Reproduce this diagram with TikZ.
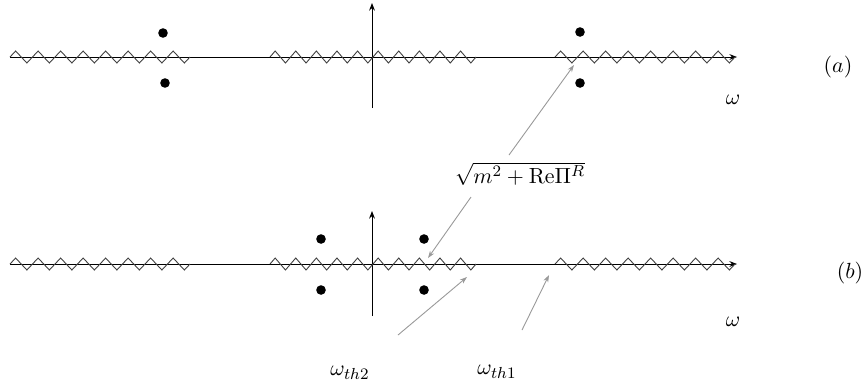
\documentclass[tikz,border=0pt]{standalone}
\usetikzlibrary{arrows.meta}
% #1 start x, #2 number of teeth, #3 period (px), #4 axis y
\newcommand\zigcut[4]{%
  \draw[cutline] (#1,#4)
    \foreach \i in {1,...,#2} {
      -- ({#1+(\i-0.75)*#3},{#4-6}) -- ({#1+(\i-0.25)*#3},{#4+6})
    } -- ({#1+#2*#3},#4);}
\begin{document}
\begin{tikzpicture}[x=0.5pt,y=-0.5pt,
  font=\fontsize{11}{13}\selectfont,
  axisline/.style={draw=black, line width=0.5pt},
  axisarrow/.style={axisline, -{Stealth[length=3.8pt,width=2.9pt]}},
  cutline/.style={draw=black!75, line width=0.45pt, line join=miter},
  pole/.style={circle, fill=black, inner sep=0pt, minimum size=4.8pt},
  pointer/.style={draw=black!40, line width=0.45pt, -{Stealth[length=3.6pt,width=2.5pt]}},
  lbl/.style={inner sep=1pt}]
\useasboundingbox (0,0) rectangle (865,387);
% ---------- (a) ----------
\coordinate (aL) at (10,57);
\coordinate (aR) at (737,57);
\coordinate (aB) at (372,108);
\coordinate (aT) at (372,3);
\draw[axisarrow] (aL) -- (aR);
\draw[axisarrow] (aB) -- (aT);
\zigcut{10}{8}{22.5}{57}
\zigcut{270}{10}{20.6}{57}
\zigcut{555}{8}{22.5}{57}
\node[pole] (a1) at (163,33) {};
\node[pole] (a2) at (165,83) {};
\node[pole] (a3) at (580,32) {};
\node[pole] (a4) at (580,83) {};
\node[lbl] (wa) at (733,100) {$\omega$};
\node[lbl] (la) at (838,67) {$(a)$};
% ---------- (b) ----------
\coordinate (bL) at (10,264);
\coordinate (bR) at (737,264);
\coordinate (bB) at (372,316);
\coordinate (bT) at (372,211);
\draw[axisarrow] (bL) -- (bR);
\draw[axisarrow] (bB) -- (bT);
\zigcut{10}{8}{22.5}{264}
\zigcut{270}{10}{20.6}{264}
\zigcut{555}{8}{22.5}{264}
\node[pole] (b1) at (321,239) {};
\node[pole] (b2) at (321,290) {};
\node[pole] (b3) at (424,239) {};
\node[pole] (b4) at (424,290) {};
\node[lbl] (wb) at (733,322) {$\omega$};
\node[lbl] (lb) at (850,273) {$(b)$};
% ---------- labels and pointers ----------
\node[lbl] (sq) at (520,174) {$\sqrt{m^2+\mathrm{Re}\Pi^R}$};
\node[lbl] (th2) at (350,373) {$\omega_{th2}$};
\node[lbl] (th1) at (497,372) {$\omega_{th1}$};
\coordinate (sqA) at (509,155);
\coordinate (sqB) at (471,197);
\coordinate (th2s) at (398,335);
\coordinate (th1s) at (522,330);
\coordinate (pa) at (574,65);
\coordinate (pb) at (428,258);
\coordinate (p2) at (467,277);
\coordinate (p1) at (549,275);
\draw[pointer] (sqA) -- (pa);
\draw[pointer] (sqB) -- (pb);
\draw[pointer] (th2s) -- (p2);
\draw[pointer] (th1s) -- (p1);
\end{tikzpicture}
\end{document}
